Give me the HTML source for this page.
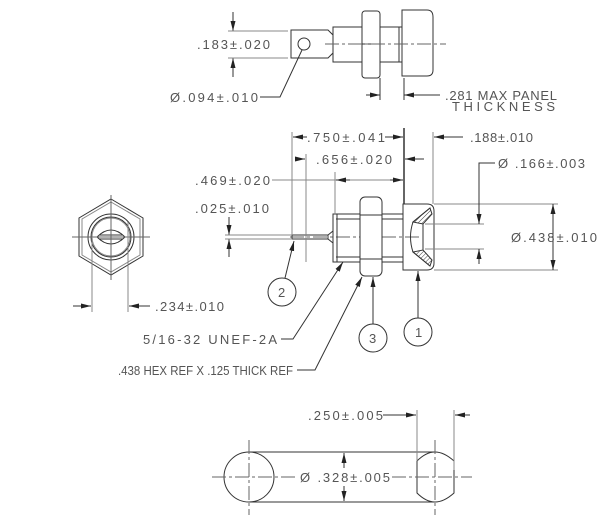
<!DOCTYPE html>
<html><head><style>
html,body{margin:0;padding:0;background:#fff;}
svg{display:block;}
text{font-family:"Liberation Sans",sans-serif;font-size:13px;fill:#555;}
</style></head><body>
<svg width="606" height="522" viewBox="0 0 606 522" xmlns="http://www.w3.org/2000/svg">
<defs>
<marker id="a" markerWidth="10" markerHeight="6" refX="10" refY="3" orient="auto" markerUnits="userSpaceOnUse"><path d="M0,0.5 L10,3 L0,5.5 Z" fill="#222"/></marker>
<pattern id="h" width="3" height="3" patternUnits="userSpaceOnUse" patternTransform="rotate(45)"><line x1="0" y1="0" x2="0" y2="3" stroke="#444" stroke-width="1"/></pattern>
</defs>
<g stroke="#333" stroke-width="1" fill="none">
<line x1="233" y1="12" x2="233" y2="31" marker-end="url(#a)"/>
<line x1="233" y1="77" x2="233" y2="58" marker-end="url(#a)"/>
<line x1="228" y1="31" x2="288" y2="31" stroke="#888"/>
<line x1="228" y1="58" x2="288" y2="58" stroke="#888"/>
<path d="M291,30 H328 L333,35 V53 L328,58 H291 Z"/>
<circle cx="304" cy="44" r="6"/>
<rect x="333" y="27" width="29" height="35"/>
<rect x="362" y="11" width="18" height="67" rx="3"/>
<line x1="362" y1="44" x2="380" y2="44"/>
<rect x="380" y="27" width="22" height="35"/>
<line x1="399" y1="27" x2="399" y2="62"/>
<path d="M402,10 H427 Q433,10 433,17 V70 Q433,76 427,76 H402 Z"/>
<line x1="325" y1="44" x2="446" y2="44" stroke-dasharray="14,3,3,3" stroke="#666"/>
<line x1="380" y1="78" x2="380" y2="100"/>
<line x1="404" y1="78" x2="404" y2="100"/>
<line x1="366" y1="95" x2="380" y2="95" marker-end="url(#a)"/>
<line x1="440" y1="95" x2="404" y2="95" marker-end="url(#a)"/>
<path d="M260,97 H280 L302,50"/>
<line x1="290" y1="237" x2="420" y2="237" stroke-dasharray="14,3,3,3" stroke="#666"/>
<rect x="292" y="235" width="36" height="4"/>
<path d="M328,235 L333,231 M328,239 L333,243"/>
<rect x="333" y="214" width="70" height="48"/>
<line x1="336" y1="219" x2="403" y2="219"/>
<line x1="336" y1="257" x2="403" y2="257"/>
<line x1="337" y1="214" x2="337" y2="262"/>
<rect x="360" y="197" width="22" height="79" rx="5" fill="#fff"/>
<path d="M360,215 H382 M360,259 H382"/>
<path d="M403,204 H427 Q434,204 434,211 V263 Q434,270 427,270 H403 Z"/>
<path d="M430,208 L413,222 Q408,237 413,252 L430,266" />
<path d="M430,208 L413,222 L423,224 L432,214 Z" fill="url(#h)"/>
<path d="M430,266 L413,252 L423,250 L432,260 Z" fill="url(#h)"/>
<line x1="423" y1="224" x2="423" y2="250"/>
<line x1="434" y1="204" x2="558" y2="204" stroke="#888"/>
<line x1="434" y1="270" x2="558" y2="270" stroke="#888"/>
<line x1="553" y1="237" x2="553" y2="204" marker-end="url(#a)"/>
<line x1="553" y1="237" x2="553" y2="270" marker-end="url(#a)"/>
<line x1="425" y1="224" x2="484" y2="224" stroke="#888"/>
<line x1="425" y1="249" x2="484" y2="249" stroke="#888"/>
<path d="M495,163 H479 V224" marker-end="url(#a)"/>
<line x1="479" y1="264" x2="479" y2="249" marker-end="url(#a)"/>
<line x1="433" y1="132" x2="433" y2="204" stroke="#888"/>
<line x1="404" y1="128" x2="404" y2="204" stroke-width="1.5"/>
<line x1="463" y1="137" x2="434" y2="137" marker-end="url(#a)"/>
<line x1="424" y1="159" x2="405" y2="159" marker-end="url(#a)"/>
<line x1="292" y1="132" x2="292" y2="235" stroke="#888"/>
<line x1="306" y1="154" x2="306" y2="262" stroke="#888"/>
<line x1="307" y1="137" x2="293" y2="137" marker-end="url(#a)"/>
<line x1="385" y1="137" x2="403" y2="137" marker-end="url(#a)"/>
<line x1="295" y1="159" x2="305" y2="159" marker-end="url(#a)"/>
<line x1="335" y1="172" x2="335" y2="214" stroke="#888"/>
<line x1="272" y1="180" x2="403" y2="180" stroke="#888"/>
<line x1="350" y1="180" x2="336" y2="180" marker-end="url(#a)"/>
<line x1="390" y1="180" x2="403" y2="180" marker-end="url(#a)"/>
<line x1="229" y1="217" x2="229" y2="235" marker-end="url(#a)"/>
<line x1="229" y1="257" x2="229" y2="239" marker-end="url(#a)"/>
<line x1="225" y1="235" x2="292" y2="235" stroke="#888"/>
<line x1="225" y1="239" x2="292" y2="239" stroke="#888"/>
<circle cx="282" cy="292" r="14"/>
<line x1="285" y1="278" x2="294" y2="241" marker-end="url(#a)"/>
<circle cx="373" cy="338" r="14"/>
<line x1="373" y1="324" x2="373" y2="277" marker-end="url(#a)"/>
<circle cx="418" cy="332" r="14"/>
<line x1="418" y1="318" x2="418" y2="271" marker-end="url(#a)"/>
<path d="M281,339 H293 L343,262" marker-end="url(#a)"/>
<path d="M297,370 H315 L362,277" marker-end="url(#a)"/>
<path d="M111,199 L143,218 L143,256 L111,275 L79,256 L79,218 Z"/>
<path d="M111,202 L140,219 L140,255 L111,272 L82,255 L82,219 Z" stroke="#888"/>
<circle cx="111" cy="237" r="23"/>
<circle cx="111" cy="237" r="20"/>
<circle cx="111" cy="237" r="19" stroke="#888"/>
<path d="M97,237 Q111,223 125,237 Q111,251 97,237 Z"/>
<path d="M99,235 H123 M99,239 H123"/>
<line x1="72" y1="237" x2="150" y2="237" stroke="#666"/>
<line x1="111" y1="195" x2="111" y2="280" stroke="#666"/>
<line x1="92" y1="237" x2="92" y2="312" stroke="#888"/>
<line x1="128" y1="222" x2="128" y2="312" stroke="#888"/>
<line x1="73" y1="306" x2="91" y2="306" marker-end="url(#a)"/>
<line x1="150" y1="306" x2="129" y2="306" marker-end="url(#a)"/>
<circle cx="249" cy="477" r="25"/>
<line x1="249" y1="452" x2="435" y2="452"/>
<line x1="249" y1="502" x2="435" y2="502"/>
<path d="M417,461 Q426,452 435,452 Q444,452 454,461 V493 Q444,502 435,502 Q426,502 417,493 Z"/>
<line x1="212" y1="477" x2="297" y2="477" stroke-dasharray="14,3,3,3" stroke="#666"/>
<line x1="392" y1="477" x2="472" y2="477" stroke-dasharray="14,3,3,3" stroke="#666"/>
<line x1="249" y1="440" x2="249" y2="515" stroke-dasharray="14,3,3,3" stroke="#666"/>
<line x1="435" y1="440" x2="435" y2="515" stroke-dasharray="14,3,3,3" stroke="#666"/>
<line x1="417" y1="410" x2="417" y2="461" stroke="#888"/>
<line x1="454" y1="410" x2="454" y2="470" stroke="#888"/>
<line x1="383" y1="415" x2="416" y2="415" marker-end="url(#a)"/>
<line x1="470" y1="415" x2="455" y2="415" marker-end="url(#a)"/>
<line x1="344" y1="477" x2="344" y2="453" marker-end="url(#a)"/>
<line x1="344" y1="477" x2="344" y2="501" marker-end="url(#a)"/>
</g>
<rect x="296" y="468" width="96" height="18" fill="#fff"/>
<g>
<text x="197" y="49" textLength="73" lengthAdjust="spacing">.183±.020</text>
<text x="170" y="102" textLength="88" lengthAdjust="spacing">Ø.094±.010</text>
<text x="445" y="100" textLength="112" lengthAdjust="spacing">.281 MAX PANEL</text>
<text x="452" y="111" textLength="103" lengthAdjust="spacing">THICKNESS</text>
<text x="307" y="142" textLength="78" lengthAdjust="spacing">.750±.041</text>
<text x="470" y="142" textLength="63" lengthAdjust="spacing">.188±.010</text>
<text x="316" y="164" textLength="76" lengthAdjust="spacing">.656±.020</text>
<text x="498" y="168" textLength="87" lengthAdjust="spacing">Ø .166±.003</text>
<text x="195" y="185" textLength="75" lengthAdjust="spacing">.469±.020</text>
<text x="195" y="213" textLength="74" lengthAdjust="spacing">.025±.010</text>
<text x="511" y="242" textLength="86" lengthAdjust="spacing">Ø.438±.010</text>
<text x="278" y="297">2</text>
<text x="369" y="343">3</text>
<text x="415" y="337">1</text>
<text x="155" y="311" textLength="69" lengthAdjust="spacing">.234±.010</text>
<text x="143" y="344" textLength="134" lengthAdjust="spacing">5/16-32 UNEF-2A</text>
<text x="118" y="375" textLength="175" lengthAdjust="spacingAndGlyphs">.438 HEX REF X .125 THICK REF</text>
<text x="308" y="420" textLength="75" lengthAdjust="spacing">.250±.005</text>
<text x="300" y="482" textLength="90" lengthAdjust="spacing">Ø .328±.005</text>
</g>
</svg>
</body></html>
